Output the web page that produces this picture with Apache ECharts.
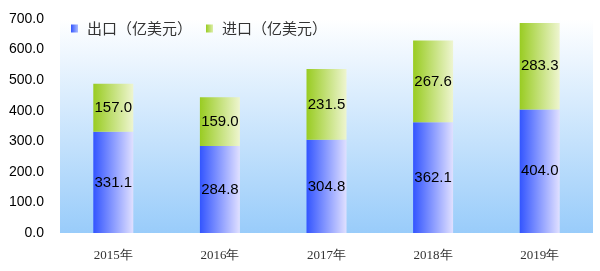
<!DOCTYPE html>
<html><head><meta charset="utf-8">
<script src="https://cdn.jsdelivr.net/npm/echarts@6/dist/echarts.min.js"></script>
<style>html,body{margin:0;padding:0;background:#fff}#c{width:600px;height:271px}</style>
</head><body><div id="c"></div>
<script>
var categories = ['2015年','2016年','2017年','2018年','2019年'];
var exportVals = [331.1, 284.8, 304.8, 362.1, 404.0];
var importVals = [157.0, 159.0, 231.5, 267.6, 283.3];
var seriesNames = ['出口（亿美元）','进口（亿美元）'];

var chart = echarts.init(document.getElementById('c'));
function hgrad(a,b){return new echarts.graphic.LinearGradient(0,0,1,0,[{offset:0,color:a},{offset:1,color:b}]);}
chart.setOption({
  animation:false,
  grid:{left:60,right:7,top:19,bottom:38,show:true,borderWidth:0,
    backgroundColor:new echarts.graphic.LinearGradient(0,0,0,1,[{offset:0,color:'#ffffff'},{offset:1,color:'#99ccfa'}])},
  legend:{left:66,top:16,itemWidth:7,itemHeight:8,itemGap:14,
    textStyle:{fontSize:15,color:'#333',fontFamily:'Noto Sans CJK SC',padding:[0,0,0,4]},
    data:[{name:seriesNames[0],icon:'rect',itemStyle:{color:hgrad('#3355ff','#aabbff')}},{name:seriesNames[1],icon:'rect',itemStyle:{color:hgrad('#99cc22','#ddeeaa')}}]},
  xAxis:{type:'category',data:categories,axisTick:{show:false},axisLine:{show:false},
    axisLabel:{margin:16,fontSize:13,color:'#333',fontFamily:'Liberation Serif'}},
  yAxis:{type:'value',min:0,max:700,interval:100,splitLine:{show:false},axisLine:{show:false},axisTick:{show:false},
    axisLabel:{formatter:function(v){return v.toFixed(1);},fontSize:14,color:'#000',fontFamily:'Liberation Sans',margin:16}},
  series:[
    {name:seriesNames[0],type:'bar',stack:'a',barWidth:40,data:exportVals,
     itemStyle:{color:hgrad('#3355ff','#e0e0ff')},
     label:{show:true,position:'inside',formatter:function(p){return p.value.toFixed(1);},fontSize:15,color:'#000',fontFamily:'Liberation Sans'}},
    {name:seriesNames[1],type:'bar',stack:'a',barWidth:40,data:importVals,
     itemStyle:{color:hgrad('#99cc22','#eef5d0')},
     label:{show:true,position:'inside',formatter:function(p){return p.value.toFixed(1);},fontSize:15,color:'#000',fontFamily:'Liberation Sans'}}
  ]
});
</script></body></html>
